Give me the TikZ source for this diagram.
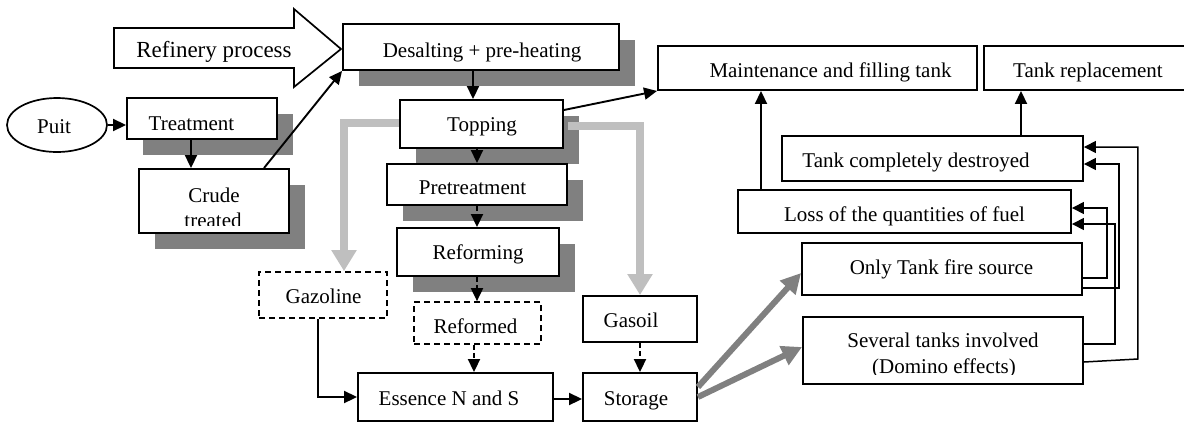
\documentclass[tikz,border=0pt]{standalone}
\usepackage{fontspec}
\setmainfont{Liberation Serif}
\usetikzlibrary{shadows,shapes.geometric,arrows.meta}
\begin{document}
\begin{tikzpicture}[x=1pt,y=-1pt,
  box/.style={draw, line width=1.9pt, fill=white, inner sep=0pt, rectangle},
  shbox/.style={box, drop shadow={shadow xshift=16pt, shadow yshift=-16pt, fill=black!50, opacity=1}},
  dbox/.style={box, line width=1.7pt, dash pattern=on 6pt off 4pt},
  txt/.style={inner sep=0pt, anchor=base, font=\fontsize{21}{24}\selectfont},
  arr/.style={line width=1.9pt, -{Triangle[length=13pt,width=12pt]}},
  darr/.style={arr, dash pattern=on 5pt off 3pt},
  thinarr/.style={line width=1.5pt, -{Triangle[length=12pt,width=12pt]}},
  lgarr/.style={line width=8pt, draw=black!25, -{Triangle[length=21pt,width=24pt]}},
  dgarr/.style={line width=6pt, draw=black!50, -{Triangle[length=20pt,width=20pt]}}]
\useasboundingbox (0,0) rectangle (1184,424);

% Refinery process block arrow
\draw[line width=1.7pt, fill=white] (114,28) -- (294,28) -- (294,9) -- (341,49) -- (294,87) -- (294,68) -- (114,68) -- cycle;
\node[txt, font=\fontsize{23}{26}\selectfont] (t-ref) at (214,57) {Refinery process};

% Puit
\node[draw, ellipse, line width=1.7pt, minimum width=100pt, minimum height=54pt] (puit) at (57,125) {};
\node[txt] (t-puit) at (54,133) {Puit};

% shadowed boxes
\node[shbox, minimum width=150pt, minimum height=41pt] (treat) at (202,118.5) {};
\node[txt] (t-treat) at (191.5,130) {Treatment};
\node[shbox, minimum width=150pt, minimum height=64pt] (crude) at (214,201) {};
\node[txt] (t-crude) at (214,202) {Crude};
\begin{scope}
\clip (140,170) rectangle (288,225.5);
\node[txt] (t-treated) at (213,227) {treated};
\end{scope}
\node[shbox, minimum width=276pt, minimum height=46pt] (desalt) at (481,47) {};
\node[txt] (t-desalt) at (482,57) {Desalting + pre-heating};
\node[shbox, minimum width=163pt, minimum height=48pt] (topping) at (481.5,124) {};
\node[txt] (t-topping) at (482,131) {Topping};
\node[shbox, minimum width=180pt, minimum height=41pt] (pret) at (477,184.5) {};
\node[txt] (t-pret) at (472.5,194) {Pretreatment};
\node[shbox, minimum width=162pt, minimum height=48pt] (reform) at (478,252) {};
\node[txt] (t-reform) at (478,259) {Reforming};

% dashed boxes
\node[dbox, minimum width=128pt, minimum height=46pt] (gaz) at (323,295) {};
\node[txt] (t-gaz) at (323.5,303) {Gazoline};
\node[dbox, minimum width=127pt, minimum height=42pt] (reformed) at (477.5,323) {};
\node[txt] (t-reformed) at (475.5,333) {Reformed};

% plain boxes
\node[box, minimum width=114pt, minimum height=46pt] (gasoil) at (640,319) {};
\node[txt] (t-gasoil) at (631,327) {Gasoil};
\node[box, minimum width=195pt, minimum height=48pt] (essence) at (455.5,397) {};
\node[txt] (t-essence) at (449,405) {Essence N and S};
\node[box, minimum width=114pt, minimum height=48pt] (storage) at (640,397) {};
\node[txt] (t-storage) at (636,405) {Storage};
\node[box, minimum width=319pt, minimum height=44pt] (maint) at (817.5,68) {};
\node[txt] (t-maint) at (830.5,77) {Maintenance and filling tank};
\node[box, minimum width=210pt, minimum height=44pt] (repl) at (1089,68) {};
\node[txt] (t-repl) at (1088,77) {Tank replacement};
\node[box, minimum width=301pt, minimum height=45pt] (destroyed) at (932.5,158.5) {};
\node[txt] (t-destroyed) at (916,167) {Tank completely destroyed};
\node[box, minimum width=333pt, minimum height=43pt] (loss) at (904.5,211.5) {};
\node[txt] (t-loss) at (904.5,221) {Loss of the quantities of fuel};
\node[box, minimum width=280pt, minimum height=52pt] (only) at (942,269) {};
\node[txt] (t-only) at (941.5,274) {Only Tank fire source};
\node[box, minimum width=280pt, minimum height=67pt] (several) at (943,350.5) {};
\node[txt] (t-several) at (943,347) {Several tanks involved};
\begin{scope}
\clip (804,318) rectangle (1082,374);
\node[txt] (t-domino) at (944,373) {(Domino effects)};
\end{scope}

% gray light arrows from Topping
\draw[lgarr] ([yshift=1pt]topping.west) -| ([xshift=21pt]gaz.north);
\draw[lgarr] ([xshift=4pt,yshift=-2pt]topping.east) -| (gasoil.north);

% black connectors
\draw[arr] (puit.east) -- (treat.west |- puit.east);
\draw[arr] ([xshift=-11pt]treat.south) -- ([xshift=-11pt]treat.south |- crude.north);
\draw[arr] ([xshift=50pt]crude.north) -- (desalt.south west);
\draw[arr] ([xshift=-8pt]desalt.south) -- ([xshift=-8pt]desalt.south |- topping.north);
\draw[arr] ([yshift=14pt]topping.east) -- (maint.south west);
\draw[darr] ([xshift=-4.5pt]topping.south) -- ([xshift=-4.5pt]topping.south |- pret.north);
\draw[darr] (pret.south) -- (pret.south |- reform.north);
\draw[darr] ([xshift=-1pt]reform.south) -- ([xshift=-1pt]reform.south |- reformed.north);
\draw[darr] ([xshift=-3.5pt]reformed.south) -- ([xshift=-3.5pt]reformed.south |- essence.north);
\draw[arr] ([xshift=-5pt]gaz.south) |- (essence.west);
\draw[darr] (gasoil.south) -- (storage.north);
\draw[arr] ([yshift=-2pt]essence.east) -- ([yshift=-2pt]storage.west);
\draw[arr] ([xshift=-143.5pt]loss.north) -- ([xshift=-143.5pt]loss.north |- maint.south);
\draw[arr] ([xshift=88.5pt]destroyed.north) -- ([xshift=88.5pt]destroyed.north |- repl.south);

% dark gray arrows from Storage
\draw[dgarr] ([yshift=10pt]storage.east) -- ([yshift=-4pt]only.west);
\draw[dgarr] ([yshift=0pt]storage.east) -- ([yshift=3.5pt]several.west);

% right-hand feedback connectors
\draw[thinarr] ([yshift=-11.5pt]several.east) -- ++(54,-3) |- ([yshift=11.5pt]destroyed.east);
\draw[thinarr] ([yshift=-19pt]only.east) -- ++(36,0) |- ([yshift=-5.5pt]destroyed.east);
\draw[thinarr] ([yshift=-9pt]only.east) -- ++(24,0) |- ([yshift=3.5pt]loss.east);
\draw[thinarr] ([yshift=6.5pt]several.east) -- ++(31,0) |- ([yshift=-12.5pt]loss.east);
\end{tikzpicture}
\end{document}
